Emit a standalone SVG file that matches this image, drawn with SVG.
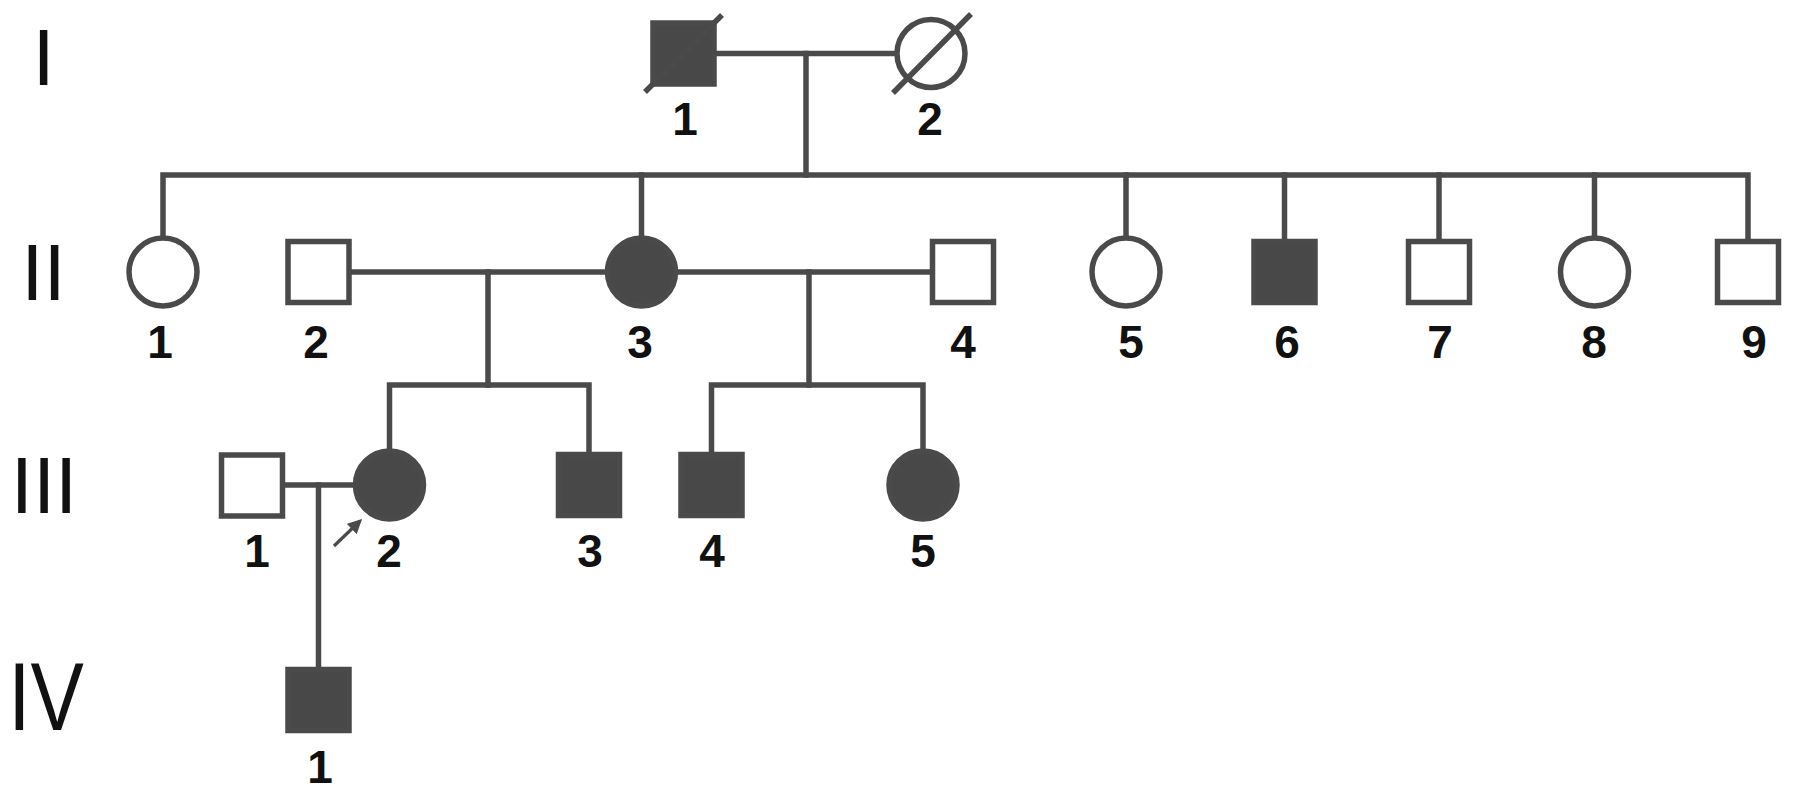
<svg xmlns="http://www.w3.org/2000/svg" width="1795" height="797" viewBox="0 0 1795 797">
<style>
.ln{fill:none;stroke:#4a4a4a;stroke-width:5.5;stroke-linecap:square}
.sq{fill:#ffffff;stroke:#4a4a4a;stroke-width:5.5}
.ci{fill:#ffffff;stroke:#4a4a4a;stroke-width:5.5}
.aff{fill:#484848}
.dead{stroke:#4a4a4a;stroke-width:5.5}
.lbl{font-family:"Liberation Sans Narrow","Liberation Sans",Arial,sans-serif;font-weight:bold;font-size:46px;fill:#111111;text-anchor:middle}
.gen{font-family:"Liberation Sans",Arial,sans-serif;font-size:80px;fill:#111111;text-anchor:middle}
</style>
<defs>
<marker id="ah" viewBox="0 0 10 10" refX="8" refY="5" markerWidth="4.5" markerHeight="4.5" orient="auto" markerUnits="strokeWidth">
<path d="M0,0 L10,5 L0,10 z" fill="#4a4a4a"/>
</marker>
</defs>
<rect width="1795" height="797" fill="#ffffff"/>
<g id="generations">
<text class="gen" x="43.5" y="85">I</text>
<text class="gen" x="43.5" y="300">II</text>
<text class="gen" x="44" y="513">III</text>
<text class="gen" transform="translate(46,730) scale(1,1.2)" x="0" y="0">IV</text>
</g>
<g id="connectors">
<path class="ln" d="M717 53.5 H897"/>
<path class="ln" d="M806 53.5 V175"/>
<path class="ln" d="M163 237 V175 H1748 V238"/>
<path class="ln" d="M641.5 175 V237"/>
<path class="ln" d="M1126 175 V237"/>
<path class="ln" d="M1284.5 175 V240"/>
<path class="ln" d="M1439 175 V240"/>
<path class="ln" d="M1594.5 175 V237"/>
<path class="ln" d="M351 272 H607"/>
<path class="ln" d="M488 272 V385"/>
<path class="ln" d="M389.5 450 V385 H589 V453"/>
<path class="ln" d="M676 272 H932"/>
<path class="ln" d="M809 272 V385"/>
<path class="ln" d="M711.5 453 V385 H923 V450"/>
<path class="ln" d="M285 485 H355"/>
<path class="ln" d="M318.5 485 V668"/>
<line x1="334" y1="546" x2="360" y2="521" stroke="#4a4a4a" stroke-width="3.2" marker-end="url(#ah)"/>
</g>
<g id="I-1">
<rect class="sq aff" x="653" y="23" width="61" height="61"/>
<line class="dead" x1="645" y1="92" x2="722" y2="15"/>
<text class="lbl" x="685" y="135">1</text>
</g>
<g id="I-2">
<circle class="ci" cx="931" cy="53.5" r="34"/>
<line class="dead" x1="893" y1="93" x2="971" y2="14"/>
<text class="lbl" x="930" y="135">2</text>
</g>
<g id="II-1">
<circle class="ci" cx="163" cy="272" r="34"/>
<text class="lbl" x="160" y="358">1</text>
</g>
<g id="II-2">
<rect class="sq" x="288" y="241.5" width="61" height="61"/>
<text class="lbl" x="316" y="358">2</text>
</g>
<g id="II-3">
<circle class="ci aff" cx="641.5" cy="272" r="34"/>
<text class="lbl" x="640" y="358">3</text>
</g>
<g id="II-4">
<rect class="sq" x="932.5" y="241.5" width="61" height="61"/>
<text class="lbl" x="963" y="358">4</text>
</g>
<g id="II-5">
<circle class="ci" cx="1126" cy="272" r="34"/>
<text class="lbl" x="1131" y="358">5</text>
</g>
<g id="II-6">
<rect class="sq aff" x="1254" y="241.5" width="61" height="61"/>
<text class="lbl" x="1287" y="358">6</text>
</g>
<g id="II-7">
<rect class="sq" x="1408.5" y="241.5" width="61" height="61"/>
<text class="lbl" x="1440" y="358">7</text>
</g>
<g id="II-8">
<circle class="ci" cx="1594.5" cy="272" r="34"/>
<text class="lbl" x="1594" y="358">8</text>
</g>
<g id="II-9">
<rect class="sq" x="1717.5" y="241.5" width="61" height="61"/>
<text class="lbl" x="1754" y="358">9</text>
</g>
<g id="III-1">
<rect class="sq" x="221.5" y="455" width="61" height="61"/>
<text class="lbl" x="257" y="567">1</text>
</g>
<g id="III-2">
<circle class="ci aff" cx="389.5" cy="485" r="34"/>
<text class="lbl" x="389" y="567">2</text>
</g>
<g id="III-3">
<rect class="sq aff" x="558.5" y="454.5" width="61" height="61"/>
<text class="lbl" x="590" y="567">3</text>
</g>
<g id="III-4">
<rect class="sq aff" x="681" y="454.5" width="61" height="61"/>
<text class="lbl" x="712" y="567">4</text>
</g>
<g id="III-5">
<circle class="ci aff" cx="923" cy="485" r="34"/>
<text class="lbl" x="923" y="567">5</text>
</g>
<g id="IV-1">
<rect class="sq aff" x="288" y="669.5" width="61" height="61"/>
<text class="lbl" x="320" y="783">1</text>
</g>
</svg>
